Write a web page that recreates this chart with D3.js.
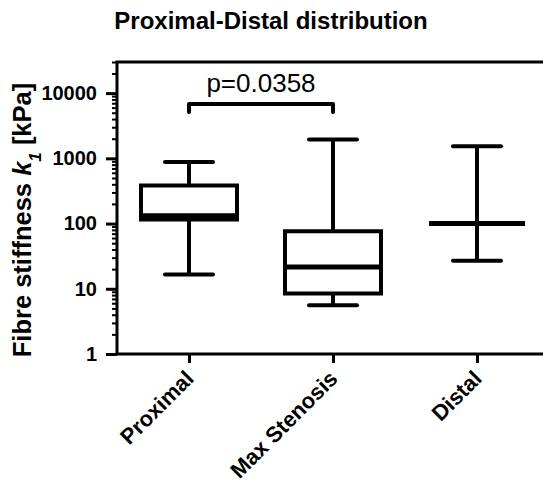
<!DOCTYPE html>
<html>
<head>
<meta charset="utf-8">
<script src="https://cdn.jsdelivr.net/npm/d3@7"></script>
<style>
  html, body { margin: 0; padding: 0; background: #fff; }
  svg { display: block; font-family: "Liberation Sans", Arial, sans-serif; }
</style>
</head>
<body>
<svg id="chart" width="543" height="482"></svg>
<script>
// Fibre stiffness k1 per region (box-and-whisker summary, kPa)
const categories  = ["Proximal", "Max Stenosis", "Distal"];
const whiskerLow  = [16.5, 5.6, 27];
const quartile1   = [115, 8.5, 100];
const medians     = [132, 21.6, 100];
const quartile3   = [385, 76, 100];
const whiskerHigh = [880, 1950, 1530];

const yTickValues = [1, 10, 100, 1000, 10000];
const comparison  = { from: "Proximal", to: "Max Stenosis", label: "p=0.0358" };

const svg = d3.select("#chart");
const W = 543, H = 482;
const plotLeft = 117, plotBottom = 354, plotTop = 62;

const y = d3.scaleLog().domain([1, 30000]).range([plotBottom, plotTop]);
const x = d3.scalePoint().domain(categories).range([plotLeft, 549]).padding(0.5);

const boxW = 96, capW = 48;

// Title
svg.append("text")
  .attr("x", 271).attr("y", 29)
  .attr("text-anchor", "middle")
  .style("font-weight", "bold").style("font-size", "24px")
  .text("Proximal-Distal distribution");

// Y axis: labelled decades and unlabelled minor ticks
const minor = [];
for (let e = 0; e <= 4; e++) {
  for (let m = 2; m <= 9; m++) {
    const v = m * Math.pow(10, e);
    if (v <= 30000) minor.push(v);
  }
}
const yMinor = svg.append("g").attr("transform", `translate(${plotLeft},0)`)
  .call(d3.axisLeft(y).tickValues(minor).tickSize(5).tickFormat(""));
yMinor.select(".domain").remove();
yMinor.selectAll("line").attr("stroke-width", 2);

const yAxis = svg.append("g").attr("transform", `translate(${plotLeft},0)`)
  .call(d3.axisLeft(y).tickValues(yTickValues).tickSize(11).tickPadding(9)
    .tickFormat(d3.format("d")));
yAxis.select(".domain").remove();
yAxis.selectAll("line").attr("stroke-width", 3);
yAxis.selectAll("text")
  .style("font-size", "20px").style("font-weight", "bold")
  .style("font-family", "'Liberation Sans', Arial, sans-serif")
  .attr("fill", "#000");

// Frame: left, top and bottom lines
svg.append("path")
  .attr("d", `M${W},${plotTop} H${plotLeft} V${plotBottom} H${W}`)
  .attr("fill", "none").attr("stroke", "#000").attr("stroke-width", 3);

// X axis ticks and rotated category labels
const xAxis = svg.append("g").attr("transform", `translate(0,${plotBottom})`)
  .call(d3.axisBottom(x).tickSize(9).tickFormat(""));
xAxis.select(".domain").remove();
xAxis.selectAll("line").attr("stroke-width", 3);

svg.append("g").selectAll("text")
  .data(categories).join("text")
  .attr("transform", d => `translate(${x(d) + 6},${plotBottom + 26}) rotate(-45)`)
  .attr("text-anchor", "end")
  .style("font-size", "22px").style("font-weight", "bold")
  .text(d => d);

// Y axis title
const yLabel = svg.append("text")
  .attr("transform", "translate(31,220) rotate(-90)")
  .attr("text-anchor", "middle")
  .style("font-size", "25.5px").style("font-weight", "bold");
yLabel.append("tspan").text("Fibre stiffness ");
yLabel.append("tspan").style("font-style", "italic").text("k");
yLabel.append("tspan").attr("baseline-shift", "sub").style("font-size", "17px")
  .style("font-style", "italic").text("1");
yLabel.append("tspan").text(" [kPa]");

// Boxes and whiskers
const stats = categories.map((c, i) => ({
  c, lo: whiskerLow[i], q1: quartile1[i], med: medians[i], q3: quartile3[i], hi: whiskerHigh[i]
}));

const g = svg.append("g").attr("stroke", "#000").attr("fill", "none").attr("stroke-width", 4);
stats.forEach(s => {
  const cx = x(s.c);
  // whisker stems
  g.append("line").attr("x1", cx).attr("x2", cx).attr("y1", y(s.q3)).attr("y2", y(s.hi));
  g.append("line").attr("x1", cx).attr("x2", cx).attr("y1", y(s.q1)).attr("y2", y(s.lo));
  // caps
  [s.hi, s.lo].forEach(v => {
    g.append("line").attr("x1", cx - capW / 2).attr("x2", cx + capW / 2)
      .attr("y1", y(v)).attr("y2", y(v)).attr("stroke-linecap", "round");
  });
  // box
  g.append("path")
    .attr("d", `M${cx - boxW / 2},${y(s.q1)} H${cx + boxW / 2} V${y(s.q3)} H${cx - boxW / 2} Z`)
    .attr("fill", "#fff").attr("stroke-linejoin", "miter");
  // median
  g.append("line").attr("x1", cx - boxW / 2).attr("x2", cx + boxW / 2)
    .attr("y1", y(s.med)).attr("y2", y(s.med)).attr("stroke-width", 5);
});

// Significance bracket
const bx1 = x(comparison.from), bx2 = x(comparison.to);
svg.append("path")
  .attr("d", `M${bx1},112 V104 H${bx2} V112`)
  .attr("fill", "none").attr("stroke", "#000").attr("stroke-width", 4)
  .attr("stroke-linecap", "round").attr("stroke-linejoin", "round");
svg.append("text")
  .attr("x", (bx1 + bx2) / 2).attr("y", 92)
  .attr("text-anchor", "middle")
  .style("font-size", "26px")
  .text(comparison.label);
</script>
</body>
</html>
